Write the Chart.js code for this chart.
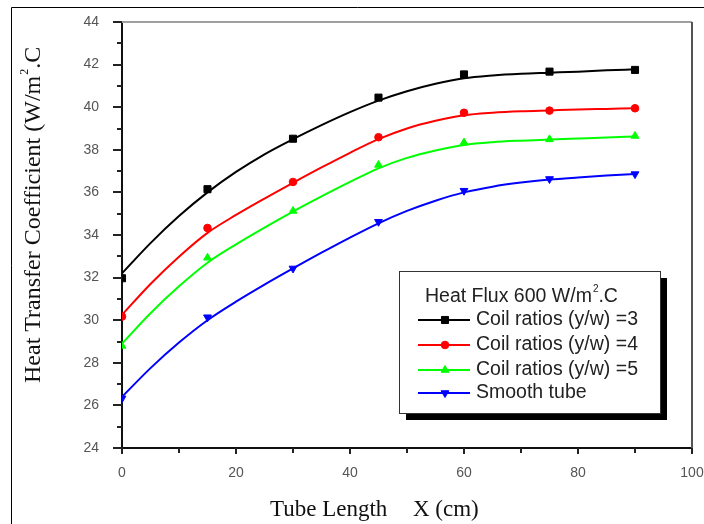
<!DOCTYPE html>
<html><head><meta charset="utf-8">
<script src="https://cdn.jsdelivr.net/npm/chart.js@4.4.1/dist/chart.umd.min.js"></script>
<style>html,body{margin:0;padding:0;background:#fff;overflow:hidden}canvas{display:block}</style>
</head><body>
<canvas id="c" width="704" height="524"></canvas>
<script>
// ---- data ----
const tubeLength = [0, 15, 30, 45, 60, 75, 90];
// measured points (markers)
const coil3 = [31.97, 36.15, 38.52, 40.45, 41.54, 41.67, 41.75];
const coil4 = [30.17, 34.33, 36.49, 38.59, 39.74, 39.84, 39.95];
const coil5 = [28.79, 32.93, 35.13, 37.29, 38.34, 38.49, 38.65];
const smoothTube = [26.33, 30.14, 32.43, 34.62, 36.08, 36.63, 36.86];
// fitted curves, every 5 cm
const fitLength = [0, 5, 10, 15, 20, 25, 30, 35, 40, 45, 50, 55, 60, 65, 70, 75, 80, 85, 90];
const coil3Fit = [32.2, 33.62, 34.89, 36.0, 36.96, 37.79, 38.5, 39.16, 39.77, 40.31, 40.75, 41.1, 41.36, 41.49, 41.57, 41.62, 41.67, 41.73, 41.78];
const coil4Fit = [30.25, 31.7, 32.98, 34.1, 34.94, 35.71, 36.45, 37.17, 37.86, 38.5, 39.0, 39.36, 39.62, 39.74, 39.81, 39.85, 39.89, 39.92, 39.95];
const coil5Fit = [28.9, 30.33, 31.59, 32.7, 33.56, 34.35, 35.1, 35.81, 36.49, 37.13, 37.62, 37.97, 38.23, 38.36, 38.43, 38.48, 38.53, 38.58, 38.62];
const smoothFit = [26.4, 27.75, 28.95, 30.0, 30.87, 31.67, 32.43, 33.17, 33.88, 34.55, 35.13, 35.61, 36.0, 36.27, 36.46, 36.6, 36.7, 36.79, 36.86];

const seriesNames = ['Coil ratios (y/w) =3', 'Coil ratios (y/w) =4', 'Coil ratios (y/w) =5', 'Smooth tube'];
const seriesColors = ['#000000', '#ff0000', '#00ff00', '#0000ff'];
const xTickValues = [0, 20, 40, 60, 80, 100];
const yTickValues = [24, 26, 28, 30, 32, 34, 36, 38, 40, 42, 44];
const legendTitle = ['Heat Flux 600 W/m', '2', '.C'];
const yTitle = ['Heat Transfer Coefficient (W/m', '2', '.C'];
const xTitle = ['Tube Length', 'X (cm)'];

// ---- build datasets ----
const markerStyles = [
  {pointStyle: 'rect', radius: 5, rotation: 0},
  {pointStyle: 'circle', radius: 3.8, rotation: 0},
  {pointStyle: 'triangle', radius: 4.5, rotation: 0},
  {pointStyle: 'triangle', radius: 4.5, rotation: 180}
];
const pointSets = [coil3, coil4, coil5, smoothTube];
const fitSets = [coil3Fit, coil4Fit, coil5Fit, smoothFit];
const datasets = [];
fitSets.forEach((arr, i) => {
  datasets.push({
    label: seriesNames[i] + ' fit', data: arr.map((v, k) => ({x: fitLength[k], y: v})),
    borderColor: seriesColors[i], borderWidth: 2, pointRadius: 0,
    cubicInterpolationMode: 'monotone', fill: false
  });
});
pointSets.forEach((arr, i) => {
  datasets.push({
    label: seriesNames[i], data: arr.map((v, k) => ({x: tubeLength[k], y: v})), showLine: false,
    backgroundColor: seriesColors[i], borderColor: seriesColors[i], borderWidth: 1,
    pointStyle: markerStyles[i].pointStyle, pointRadius: markerStyles[i].radius,
    pointRotation: markerStyles[i].rotation
  });
});

function drawSup(ctx, parts, x, y, font, supFont, rise) {
  ctx.font = font;
  ctx.fillText(parts[0], x, y);
  let w = ctx.measureText(parts[0]).width;
  ctx.font = supFont;
  ctx.fillText(parts[1], x + w + 1, y - rise);
  w += ctx.measureText(parts[1]).width + 1;
  ctx.font = font;
  ctx.fillText(parts[2], x + w, y);
}

const extras = {
  id: 'extras',
  afterDraw(chart) {
    const ctx = chart.ctx;
    const {left, right, top, bottom} = chart.chartArea;
    const xs = chart.scales.x, ys = chart.scales.y;
    ctx.save();
    // outer frame
    ctx.strokeStyle = '#000'; ctx.lineWidth = 1;
    ctx.beginPath(); ctx.moveTo(11.5, 524); ctx.lineTo(11.5, 7.5); ctx.lineTo(704, 7.5); ctx.stroke();
    // plot frame top/right
    ctx.strokeStyle = '#a0a0a0'; ctx.lineWidth = 2;
    ctx.beginPath(); ctx.moveTo(left, top); ctx.lineTo(right, top); ctx.stroke();
    ctx.strokeStyle = '#555'; ctx.lineWidth = 2;
    ctx.beginPath(); ctx.moveTo(right, top); ctx.lineTo(right, bottom); ctx.stroke();
    // tick marks
    ctx.strokeStyle = '#222'; ctx.lineWidth = 2;
    for (let v = yTickValues[0]; v <= yTickValues[yTickValues.length - 1]; v += 1) {
      const y = Math.round(ys.getPixelForValue(v));
      const len = (v % 2 === 0) ? 9 : 5;
      ctx.beginPath(); ctx.moveTo(left - len, y); ctx.lineTo(left, y); ctx.stroke();
    }
    for (let v = xTickValues[0]; v <= xTickValues[xTickValues.length - 1]; v += 10) {
      const x = Math.round(xs.getPixelForValue(v));
      const len = (v % 20 === 0) ? 6 : 5;
      ctx.beginPath(); ctx.moveTo(x, bottom); ctx.lineTo(x, bottom + len); ctx.stroke();
    }
    // legend
    const bx = 399, by = 271, bw = 261, bh = 142;
    ctx.fillStyle = '#000';
    ctx.fillRect(bx + 7, by + 7, bw, bh);
    ctx.fillStyle = '#fff';
    ctx.fillRect(bx, by, bw, bh);
    ctx.strokeStyle = '#333'; ctx.lineWidth = 1;
    ctx.strokeRect(bx + 0.5, by + 0.5, bw, bh);
    ctx.fillStyle = '#222';
    ctx.textBaseline = 'middle'; ctx.textAlign = 'left';
    drawSup(ctx, legendTitle, 425, 297, '19.5px "Liberation Sans", Arial, sans-serif', '10px "Liberation Sans", Arial, sans-serif', 8);
    const rowY = [320, 345, 370, 393];
    seriesNames.forEach((name, i) => {
      const y = rowY[i];
      ctx.strokeStyle = seriesColors[i]; ctx.lineWidth = 2;
      ctx.beginPath(); ctx.moveTo(418, y); ctx.lineTo(470, y); ctx.stroke();
      ctx.fillStyle = seriesColors[i]; ctx.lineWidth = 1;
      Chart.helpers.drawPoint(ctx, {pointStyle: markerStyles[i].pointStyle, rotation: markerStyles[i].rotation, radius: markerStyles[i].radius, borderWidth: 1}, 445, y);
      ctx.fillStyle = '#222';
      ctx.font = '19.5px "Liberation Sans", Arial, sans-serif';
      ctx.fillText(name, 476, y);
    });
    // axis titles
    ctx.fillStyle = '#111';
    ctx.font = '23px "Liberation Serif", "Times New Roman", serif';
    ctx.textBaseline = 'middle';
    ctx.fillText(xTitle[0], 270, 510);
    ctx.fillText(xTitle[1], 413, 510);
    ctx.save();
    ctx.translate(34, 383);
    ctx.rotate(-Math.PI / 2);
    drawSup(ctx, yTitle, 0, 0, '24px "Liberation Serif", "Times New Roman", serif', '12px "Liberation Serif", serif', 9);
    ctx.restore();
    ctx.restore();
  }
};

new Chart(document.getElementById('c'), {
  type: 'line',
  data: {datasets},
  options: {
    responsive: false, animation: false,
    layout: {padding: {left: 0, top: 22, right: 12, bottom: 0}},
    plugins: {legend: {display: false}, tooltip: {enabled: false}},
    scales: {
      x: {
        type: 'linear', min: 0, max: 100,
        afterFit: s => { s.height = 76; s.paddingLeft = 0; s.paddingRight = 0; },
        afterBuildTicks: s => { s.ticks = xTickValues.map(v => ({value: v})); },
        grid: {display: false},
        border: {display: true, color: '#111', width: 2},
        ticks: {color: '#555', font: {family: '"Liberation Sans", Arial, sans-serif', size: 14}, padding: 9, maxRotation: 0}
      },
      y: {
        type: 'linear', min: 24, max: 44,
        afterFit: s => { s.width = 122; s.paddingTop = 0; s.paddingBottom = 0; },
        afterBuildTicks: s => { s.ticks = yTickValues.map(v => ({value: v})); },
        grid: {display: false},
        border: {display: true, color: '#111', width: 2},
        ticks: {color: '#555', font: {family: '"Liberation Sans", Arial, sans-serif', size: 14}, padding: 15}
      }
    }
  },
  plugins: [extras]
});
</script>
</body></html>
